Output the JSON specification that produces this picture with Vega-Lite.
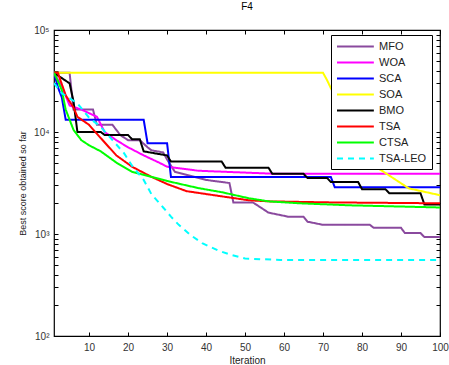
{
  "$schema": "https://vega.github.io/schema/vega-lite/v6.json",
  "width": 386,
  "height": 306,
  "autosize": {"type": "none"},
  "padding": {"left": 54, "top": 30, "right": 9, "bottom": 29},
  "background": "white",
  "config": {
    "view": {"stroke": "black", "strokeWidth": 1.2},
    "font": "Liberation Sans"
  },
  "title": {"text": "F4", "fontSize": 10, "fontWeight": "normal", "offset": 13, "color": "black", "font": "Liberation Sans"},
  "data": {"values": [
    {"alg":"MFO","it":1,"v":38000},{"alg":"MFO","it":5,"v":38000},{"alg":"MFO","it":6,"v":16600},{"alg":"MFO","it":11,"v":16600},{"alg":"MFO","it":12,"v":11750},{"alg":"MFO","it":16,"v":11750},{"alg":"MFO","it":18,"v":9330},{"alg":"MFO","it":20,"v":8320},{"alg":"MFO","it":23,"v":8320},{"alg":"MFO","it":25,"v":7080},{"alg":"MFO","it":26,"v":6610},{"alg":"MFO","it":29,"v":6310},{"alg":"MFO","it":30,"v":5370},{"alg":"MFO","it":32,"v":4070},{"alg":"MFO","it":40,"v":3390},{"alg":"MFO","it":46,"v":3160},{"alg":"MFO","it":47,"v":2040},{"alg":"MFO","it":52,"v":2040},{"alg":"MFO","it":54,"v":1820},{"alg":"MFO","it":56,"v":1620},{"alg":"MFO","it":61,"v":1480},{"alg":"MFO","it":65,"v":1480},{"alg":"MFO","it":66,"v":1320},{"alg":"MFO","it":70,"v":1230},{"alg":"MFO","it":82,"v":1230},{"alg":"MFO","it":83,"v":1150},{"alg":"MFO","it":90,"v":1150},{"alg":"MFO","it":91,"v":1020},{"alg":"MFO","it":95,"v":1020},{"alg":"MFO","it":96,"v":933},{"alg":"MFO","it":100,"v":933},
    {"alg":"WOA","it":1,"v":38000},{"alg":"WOA","it":3,"v":28200},{"alg":"WOA","it":5,"v":18200},{"alg":"WOA","it":8,"v":16600},{"alg":"WOA","it":12,"v":14100},{"alg":"WOA","it":14,"v":10000},{"alg":"WOA","it":17,"v":8300},{"alg":"WOA","it":20,"v":7080},{"alg":"WOA","it":24,"v":5900},{"alg":"WOA","it":28,"v":5000},{"alg":"WOA","it":30,"v":4570},{"alg":"WOA","it":38,"v":4170},{"alg":"WOA","it":58,"v":3890},{"alg":"WOA","it":100,"v":3890},
    {"alg":"SCA","it":1,"v":38000},{"alg":"SCA","it":2,"v":27500},{"alg":"SCA","it":3,"v":21900},{"alg":"SCA","it":4,"v":13200},{"alg":"SCA","it":24,"v":13200},{"alg":"SCA","it":25,"v":7760},{"alg":"SCA","it":30,"v":7760},{"alg":"SCA","it":31,"v":3630},{"alg":"SCA","it":72,"v":3630},{"alg":"SCA","it":73,"v":2880},{"alg":"SCA","it":100,"v":2880},
    {"alg":"SOA","it":1,"v":38000},{"alg":"SOA","it":70,"v":38000},{"alg":"SOA","it":71,"v":32400},{"alg":"SOA","it":72,"v":27000},{"alg":"SOA","it":74,"v":19000},{"alg":"SOA","it":76,"v":12000},{"alg":"SOA","it":78,"v":7000},{"alg":"SOA","it":79,"v":5600},{"alg":"SOA","it":85,"v":4200},{"alg":"SOA","it":92,"v":2800},{"alg":"SOA","it":100,"v":2400},
    {"alg":"BMO","it":1,"v":38000},{"alg":"BMO","it":5,"v":30000},{"alg":"BMO","it":6,"v":20000},{"alg":"BMO","it":7,"v":10000},{"alg":"BMO","it":13,"v":10000},{"alg":"BMO","it":14,"v":9330},{"alg":"BMO","it":20,"v":9330},{"alg":"BMO","it":21,"v":8510},{"alg":"BMO","it":23,"v":8510},{"alg":"BMO","it":24,"v":6460},{"alg":"BMO","it":30,"v":5890},{"alg":"BMO","it":31,"v":5130},{"alg":"BMO","it":44,"v":5130},{"alg":"BMO","it":45,"v":4470},{"alg":"BMO","it":56,"v":4470},{"alg":"BMO","it":57,"v":3890},{"alg":"BMO","it":65,"v":3890},{"alg":"BMO","it":66,"v":3550},{"alg":"BMO","it":71,"v":3550},{"alg":"BMO","it":72,"v":3240},{"alg":"BMO","it":79,"v":3240},{"alg":"BMO","it":80,"v":2750},{"alg":"BMO","it":86,"v":2750},{"alg":"BMO","it":87,"v":2510},{"alg":"BMO","it":95,"v":2510},{"alg":"BMO","it":96,"v":1950},{"alg":"BMO","it":100,"v":1950},
    {"alg":"TSA","it":1,"v":38000},{"alg":"TSA","it":2,"v":38000},{"alg":"TSA","it":4,"v":22900},{"alg":"TSA","it":6,"v":17400},{"alg":"TSA","it":7,"v":14100},{"alg":"TSA","it":10,"v":11750},{"alg":"TSA","it":13,"v":8710},{"alg":"TSA","it":17,"v":5890},{"alg":"TSA","it":21,"v":4570},{"alg":"TSA","it":26,"v":3630},{"alg":"TSA","it":30,"v":3090},{"alg":"TSA","it":35,"v":2630},{"alg":"TSA","it":44,"v":2340},{"alg":"TSA","it":51,"v":2140},{"alg":"TSA","it":56,"v":2090},{"alg":"TSA","it":72,"v":2040},{"alg":"TSA","it":100,"v":2000},
    {"alg":"CTSA","it":1,"v":38000},{"alg":"CTSA","it":2,"v":31600},{"alg":"CTSA","it":3,"v":25700},{"alg":"CTSA","it":4,"v":16600},{"alg":"CTSA","it":5,"v":13200},{"alg":"CTSA","it":6,"v":10500},{"alg":"CTSA","it":8,"v":8320},{"alg":"CTSA","it":10,"v":7410},{"alg":"CTSA","it":13,"v":6460},{"alg":"CTSA","it":17,"v":5010},{"alg":"CTSA","it":21,"v":4070},{"alg":"CTSA","it":26,"v":3630},{"alg":"CTSA","it":30,"v":3310},{"alg":"CTSA","it":38,"v":2820},{"alg":"CTSA","it":44,"v":2570},{"alg":"CTSA","it":51,"v":2240},{"alg":"CTSA","it":56,"v":2090},{"alg":"CTSA","it":64,"v":2000},{"alg":"CTSA","it":77,"v":1910},{"alg":"CTSA","it":100,"v":1820},
    {"alg":"TSA-LEO","it":1,"v":30200},{"alg":"TSA-LEO","it":3,"v":24000},{"alg":"TSA-LEO","it":7,"v":19100},{"alg":"TSA-LEO","it":10,"v":13800},{"alg":"TSA-LEO","it":13,"v":11200},{"alg":"TSA-LEO","it":16,"v":8320},{"alg":"TSA-LEO","it":19,"v":6170},{"alg":"TSA-LEO","it":21,"v":4680},{"alg":"TSA-LEO","it":24,"v":3390},{"alg":"TSA-LEO","it":26,"v":2450},{"alg":"TSA-LEO","it":29,"v":1820},{"alg":"TSA-LEO","it":31,"v":1480},{"alg":"TSA-LEO","it":33,"v":1230},{"alg":"TSA-LEO","it":36,"v":977},{"alg":"TSA-LEO","it":39,"v":813},{"alg":"TSA-LEO","it":43,"v":692},{"alg":"TSA-LEO","it":46,"v":631},{"alg":"TSA-LEO","it":50,"v":575},{"alg":"TSA-LEO","it":59,"v":556},{"alg":"TSA-LEO","it":100,"v":556}
  ]},
  "layer": [
    {
      "mark": {"type": "line", "strokeWidth": 2, "clip": true},
      "encoding": {
        "x": {"field": "it", "type": "quantitative",
          "scale": {"domain": [1, 100], "nice": false, "zero": false},
          "axis": {"orient": "bottom", "values": [10,20,30,40,50,60,70,80,90,100], "tickSize": -4, "tickColor": "black", "tickWidth": 1, "domain": false, "grid": false,
            "labelFontSize": 10, "labelColor": "#333", "labelPadding": 10, "labelFlush": false,
            "title": "Iteration", "titleFontSize": 10, "titleFontWeight": "normal", "titleColor": "#222", "titlePadding": 3}},
        "y": {"field": "v", "type": "quantitative",
          "scale": {"type": "log", "domain": [100, 100000], "nice": false},
          "axis": {"orient": "left", "values": [100,200,300,400,500,600,700,800,900,1000,2000,3000,4000,5000,6000,7000,8000,9000,10000,20000,30000,40000,50000,60000,70000,80000,90000,100000],
            "labelExpr": "datum.value == 100 ? '10²' : datum.value == 1000 ? '10³' : datum.value == 10000 ? '10⁴' : datum.value == 100000 ? '10⁵' : ''",
            "labelOverlap": false, "tickSize": -4, "tickColor": "black", "tickWidth": 1, "domain": false, "grid": false,
            "labelFontSize": 10, "labelColor": "#333", "labelPadding": 9, "labelFlush": false,
            "title": "Best score obtained so far", "titleFontSize": 9, "titleFontWeight": "normal", "titleColor": "#222", "titlePadding": 6}},
        "color": {"field": "alg", "type": "nominal",
          "scale": {"domain": ["MFO","WOA","SCA","SOA","BMO","TSA","CTSA","TSA-LEO"],
                    "range": ["#8A4A9E","#FF00FF","#0000FF","#FFFF00","#000000","#FF0000","#00FF00","#00FFFF"]},
          "legend": {"title": null, "orient": "none", "legendX": 277, "legendY": 5, "symbolType": "M-1,0H5.7", "symbolSize": 121, "symbolStrokeWidth": 2,
            "labelFontSize": 11, "labelColor": "#222", "labelOffset": 30, "rowPadding": 4, "padding": 5,
            "strokeColor": "black", "fillColor": "white"}},
        "strokeDash": {"field": "alg", "type": "nominal",
          "scale": {"domain": ["MFO","WOA","SCA","SOA","BMO","TSA","CTSA","TSA-LEO"],
                    "range": [[1,0],[1,0],[1,0],[1,0],[1,0],[1,0],[1,0],[6,5]]},
          "legend": {"title": null, "orient": "none", "legendX": 277, "legendY": 5, "symbolType": "M-1,0H5.7", "symbolSize": 121, "symbolStrokeWidth": 2,
            "labelFontSize": 11, "labelColor": "#222", "labelOffset": 30, "rowPadding": 4, "padding": 5,
            "strokeColor": "black", "fillColor": "white"}}
      }
    },
    {
      "mark": {"type": "point", "opacity": 0},
      "encoding": {
        "x": {"field": "it", "type": "quantitative",
          "scale": {"domain": [1, 100], "nice": false, "zero": false},
          "axis": {"orient": "top", "values": [10,20,30,40,50,60,70,80,90,100], "tickSize": -4, "tickColor": "black", "labels": false, "domain": false, "grid": false, "title": null}},
        "y": {"field": "v", "type": "quantitative",
          "scale": {"type": "log", "domain": [100, 100000], "nice": false},
          "axis": {"orient": "right", "values": [100,200,300,400,500,600,700,800,900,1000,2000,3000,4000,5000,6000,7000,8000,9000,10000,20000,30000,40000,50000,60000,70000,80000,90000,100000],
            "tickSize": -4, "tickColor": "black", "labels": false, "domain": false, "grid": false, "title": null}}
      }
    }
  ],
  "resolve": {"axis": {"x": "independent", "y": "independent"}}
}
